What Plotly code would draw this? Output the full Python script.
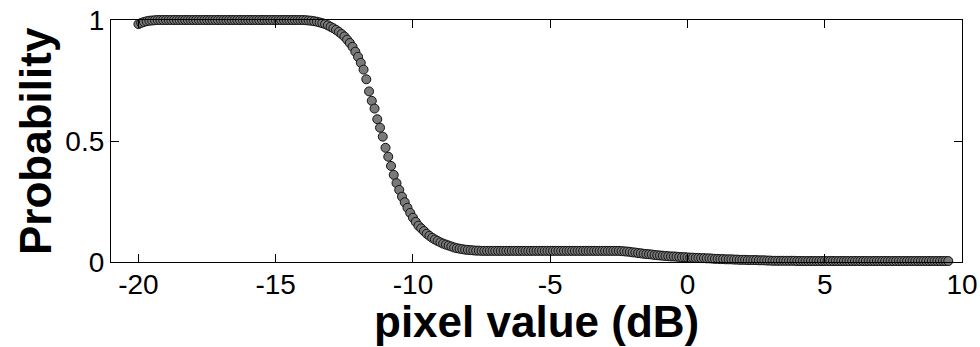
import plotly.graph_objects as go

# x positions (dB)
pixel_db = [
    -20.0, -19.9, -19.8, -19.7, -19.6, -19.5, -19.4, -19.3, -19.2, -19.1,
    -19.0, -18.9, -18.8, -18.7, -18.6, -18.5, -18.4, -18.3, -18.2, -18.1,
    -18.0, -17.9, -17.8, -17.7, -17.6, -17.5, -17.4, -17.3, -17.2, -17.1,
    -17.0, -16.9, -16.8, -16.7, -16.6, -16.5, -16.4, -16.3, -16.2, -16.1,
    -16.0, -15.9, -15.8, -15.7, -15.6, -15.5, -15.4, -15.3, -15.2, -15.1,
    -15.0, -14.9, -14.8, -14.7, -14.6, -14.5, -14.4, -14.3, -14.2, -14.1,
    -14.0, -13.9, -13.8, -13.7, -13.6, -13.5, -13.4, -13.3, -13.2, -13.1,
    -13.0, -12.9, -12.8, -12.7, -12.6, -12.5, -12.4, -12.3, -12.2, -12.1,
    -12.0, -11.9, -11.8, -11.7, -11.6, -11.5, -11.4, -11.3, -11.2, -11.1,
    -11.0, -10.9, -10.8, -10.7, -10.6, -10.5, -10.4, -10.3, -10.2, -10.1,
    -10.0, -9.9, -9.8, -9.7, -9.6, -9.5, -9.4, -9.3, -9.2, -9.1,
    -9.0, -8.9, -8.8, -8.7, -8.6, -8.5, -8.4, -8.3, -8.2, -8.1,
    -8.0, -7.9, -7.8, -7.7, -7.6, -7.5, -7.4, -7.3, -7.2, -7.1,
    -7.0, -6.9, -6.8, -6.7, -6.6, -6.5, -6.4, -6.3, -6.2, -6.1,
    -6.0, -5.9, -5.8, -5.7, -5.6, -5.5, -5.4, -5.3, -5.2, -5.1,
    -5.0, -4.9, -4.8, -4.7, -4.6, -4.5, -4.4, -4.3, -4.2, -4.1,
    -4.0, -3.9, -3.8, -3.7, -3.6, -3.5, -3.4, -3.3, -3.2, -3.1,
    -3.0, -2.9, -2.8, -2.7, -2.6, -2.5, -2.4, -2.3, -2.2, -2.1,
    -2.0, -1.9, -1.8, -1.7, -1.6, -1.5, -1.4, -1.3, -1.2, -1.1,
    -1.0, -0.9, -0.8, -0.7, -0.6, -0.5, -0.4, -0.3, -0.2, -0.1,
    0.0, 0.1, 0.2, 0.3, 0.4, 0.5, 0.6, 0.7, 0.8, 0.9,
    1.0, 1.1, 1.2, 1.3, 1.4, 1.5, 1.6, 1.7, 1.8, 1.9,
    2.0, 2.1, 2.2, 2.3, 2.4, 2.5, 2.6, 2.7, 2.8, 2.9,
    3.0, 3.1, 3.2, 3.3, 3.4, 3.5, 3.6, 3.7, 3.8, 3.9,
    4.0, 4.1, 4.2, 4.3, 4.4, 4.5, 4.6, 4.7, 4.8, 4.9,
    5.0, 5.1, 5.2, 5.3, 5.4, 5.5, 5.6, 5.7, 5.8, 5.9,
    6.0, 6.1, 6.2, 6.3, 6.4, 6.5, 6.6, 6.7, 6.8, 6.9,
    7.0, 7.1, 7.2, 7.3, 7.4, 7.5, 7.6, 7.7, 7.8, 7.9,
    8.0, 8.1, 8.2, 8.3, 8.4, 8.5, 8.6, 8.7, 8.8, 8.9,
    9.0, 9.1, 9.2, 9.3, 9.4, 9.5,
]

# probability values
probability = [
    0.983, 0.988, 0.992, 0.995, 0.997, 0.998, 0.999, 1.000, 1.000, 1.000,
    1.000, 1.000, 1.000, 1.000, 1.000, 1.000, 1.000, 1.000, 1.000, 1.000,
    1.000, 1.000, 1.000, 1.000, 1.000, 1.000, 1.000, 1.000, 1.000, 1.000,
    1.000, 1.000, 1.000, 1.000, 1.000, 1.000, 1.000, 1.000, 1.000, 1.000,
    1.000, 1.000, 1.000, 1.000, 1.000, 1.000, 1.000, 1.000, 1.000, 1.000,
    1.000, 1.000, 1.000, 1.000, 1.000, 1.000, 1.000, 1.000, 1.000, 1.000,
    1.000, 0.999, 0.998, 0.997, 0.995, 0.993, 0.990, 0.987, 0.983, 0.978,
    0.972, 0.966, 0.959, 0.951, 0.942, 0.932, 0.919, 0.905, 0.889, 0.869,
    0.848, 0.823, 0.795, 0.755, 0.705, 0.666, 0.634, 0.590, 0.555, 0.518,
    0.472, 0.435, 0.397, 0.360, 0.326, 0.298, 0.270, 0.247, 0.224, 0.203,
    0.183, 0.166, 0.150, 0.139, 0.128, 0.117, 0.108, 0.100, 0.093, 0.087,
    0.081, 0.076, 0.072, 0.068, 0.064, 0.060, 0.057, 0.055, 0.053, 0.051,
    0.050, 0.049, 0.048, 0.047, 0.047, 0.046, 0.046, 0.046, 0.046, 0.046,
    0.046, 0.046, 0.046, 0.046, 0.046, 0.046, 0.046, 0.046, 0.046, 0.046,
    0.046, 0.046, 0.046, 0.046, 0.046, 0.046, 0.046, 0.046, 0.046, 0.046,
    0.046, 0.046, 0.046, 0.046, 0.046, 0.046, 0.046, 0.046, 0.046, 0.046,
    0.046, 0.046, 0.046, 0.046, 0.046, 0.046, 0.046, 0.046, 0.046, 0.046,
    0.046, 0.046, 0.046, 0.046, 0.046, 0.046, 0.045, 0.044, 0.043, 0.042,
    0.040, 0.039, 0.037, 0.036, 0.034, 0.033, 0.032, 0.031, 0.029, 0.028,
    0.027, 0.026, 0.025, 0.024, 0.023, 0.023, 0.022, 0.021, 0.020, 0.020,
    0.019, 0.018, 0.018, 0.017, 0.017, 0.016, 0.016, 0.015, 0.015, 0.014,
    0.013, 0.013, 0.012, 0.012, 0.011, 0.011, 0.011, 0.010, 0.010, 0.009,
    0.009, 0.009, 0.008, 0.008, 0.008, 0.008, 0.007, 0.007, 0.007, 0.006,
    0.006, 0.005, 0.005, 0.005, 0.005, 0.005, 0.005, 0.005, 0.005, 0.005,
    0.004, 0.004, 0.004, 0.004, 0.004, 0.004, 0.004, 0.004, 0.004, 0.004,
    0.004, 0.004, 0.004, 0.004, 0.004, 0.004, 0.004, 0.004, 0.004, 0.004,
    0.004, 0.004, 0.004, 0.004, 0.004, 0.004, 0.004, 0.004, 0.004, 0.004,
    0.004, 0.004, 0.004, 0.004, 0.004, 0.004, 0.004, 0.004, 0.004, 0.004,
    0.004, 0.004, 0.004, 0.004, 0.004, 0.004, 0.004, 0.004, 0.004, 0.004,
    0.004, 0.004, 0.004, 0.004, 0.004, 0.004,
]

x_ticks = [-20, -15, -10, -5, 0, 5, 10]
x_tick_labels = ["-20", "-15", "-10", "-5", "0", "5", "10"]
y_ticks = [0, 0.5, 1]
y_tick_labels = ["0", "0.5", "1"]
x_title = "pixel value (dB)"
y_title = "Probability"

FONT = "Liberation Sans, Arial, sans-serif"

fig = go.Figure()
fig.add_trace(go.Scatter(
    x=pixel_db, y=probability, mode="markers",
    marker=dict(size=9, color="#7a7a7a", line=dict(color="#111111", width=1)),
    cliponaxis=False, showlegend=False,
))

axis_common = dict(
    showline=True, linecolor="black", linewidth=1.2, mirror="ticks",
    ticks="inside", ticklen=8, tickwidth=1, tickcolor="black",
    showgrid=False, zeroline=False,
    tickfont=dict(family=FONT, size=28, color="black"),
)

fig.update_xaxes(
    range=[-21, 10], tickvals=x_ticks, ticktext=x_tick_labels,
    ticklabelstandoff=-3,
    **axis_common,
)
fig.update_yaxes(
    range=[0, 1], tickvals=y_ticks, ticktext=y_tick_labels,
    **axis_common,
)

title_font = dict(family=FONT, size=44, color="black", weight="bold")
fig.add_annotation(
    text=x_title, xref="paper", yref="paper",
    x=0.5, y=-(321 - 262) / 242, xanchor="center", yanchor="middle",
    showarrow=False, font=title_font,
)
fig.add_annotation(
    text=y_title, xref="paper", yref="paper", textangle=-90,
    x=-(111 - 35) / 851, y=0.5, xanchor="center", yanchor="middle",
    showarrow=False, font=title_font,
)

fig.update_layout(
    width=980, height=347,
    margin=dict(l=111, r=18, t=20, b=85, autoexpand=False),
    plot_bgcolor="white", paper_bgcolor="white",
)

fig.write_html("out.html")
